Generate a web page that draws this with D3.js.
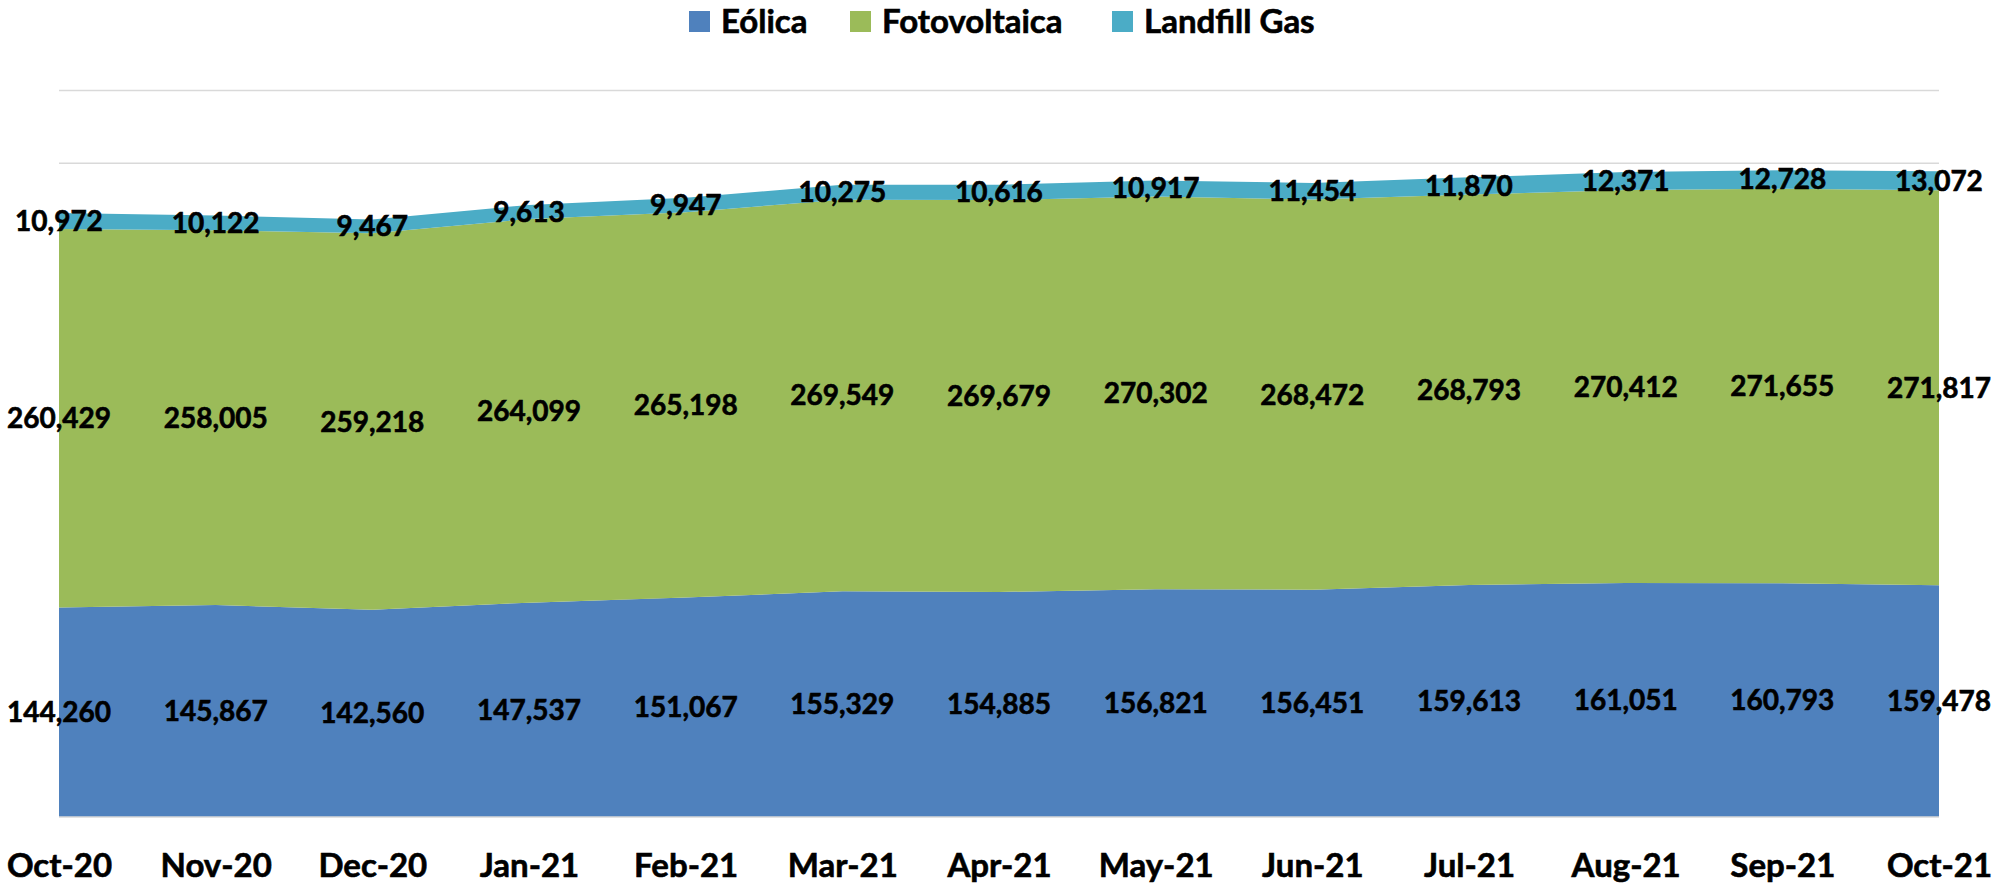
<!DOCTYPE html>
<html>
<head>
<meta charset="utf-8">
<script src="https://cdn.jsdelivr.net/npm/d3@7"></script>
<style>
  body { margin: 0; background: #fff; }
  text { font-family: Lato, "Open Sans", sans-serif; font-weight: bold; fill: #000; stroke: #000; stroke-width: 0.6px; }
</style>
</head>
<body>
<svg id="chart" width="1997" height="889"></svg>
<script>
// chart data
var months = ["Oct-20", "Nov-20", "Dec-20", "Jan-21", "Feb-21", "Mar-21", "Apr-21",
              "May-21", "Jun-21", "Jul-21", "Aug-21", "Sep-21", "Oct-21"];
var eolica = [144260, 145867, 142560, 147537, 151067, 155329, 154885, 156821, 156451, 159613, 161051, 160793, 159478];
var fotovoltaica = [260429, 258005, 259218, 264099, 265198, 269549, 269679, 270302, 268472, 268793, 270412, 271655, 271817];
var landfill = [10972, 10122, 9467, 9613, 9947, 10275, 10616, 10917, 11454, 11870, 12371, 12728, 13072];
var seriesNames = ["Eólica", "Fotovoltaica", "Landfill Gas"];
var colors = ["#4f81bd", "#9bbb59", "#4bacc6"];
var yTicks = d3.range(0, 500001, 50000);

var plotLeft = 59, plotRight = 1939, plotTop = 90.5, plotBottom = 817;

var svg = d3.select("#chart");

var x = d3.scalePoint().domain(months).range([plotLeft, plotRight]);
var y = d3.scaleLinear().domain([0, 500000]).range([plotBottom, plotTop]);

// gridlines
svg.append("g")
    .selectAll("line")
    .data(yTicks.slice(1))
    .enter()
    .append("line")
    .attr("x1", plotLeft)
    .attr("x2", plotRight)
    .attr("y1", function (d) { return y(d); })
    .attr("y2", function (d) { return y(d); })
    .attr("stroke", "#d9d9d9")
    .attr("stroke-width", 1.5);

var rows = months.map(function (m, i) {
    return { month: m, "Eólica": eolica[i], "Fotovoltaica": fotovoltaica[i], "Landfill Gas": landfill[i] };
});
var stacked = d3.stack().keys(seriesNames)(rows);

var area = d3.area()
    .x(function (d) { return x(d.data.month); })
    .y0(function (d) { return y(d[0]); })
    .y1(function (d) { return y(d[1]); });

svg.append("g")
    .selectAll("path")
    .data(stacked)
    .enter()
    .append("path")
    .attr("d", area)
    .attr("fill", function (d, i) { return colors[i]; });

// baseline
svg.append("line")
    .attr("x1", plotLeft)
    .attr("x2", plotRight)
    .attr("y1", plotBottom)
    .attr("y2", plotBottom)
    .attr("stroke", "#d9d9d9")
    .attr("stroke-width", 1.5);

// data labels, centred in each band
var fmt = d3.format(",");
stacked.forEach(function (layer) {
    svg.append("g")
        .selectAll("text")
        .data(layer)
        .enter()
        .append("text")
        .attr("x", function (d) { return x(d.data.month); })
        .attr("y", function (d) { return (y(d[0]) + y(d[1])) / 2 + 10; })
        .attr("text-anchor", "middle")
        .style("font-size", "28px")
        .text(function (d) { return fmt(d[1] - d[0]); });
});

// x axis labels
var xAxis = d3.axisBottom(x).tickSize(0).tickPadding(0);
var gx = svg.append("g")
    .attr("transform", "translate(0," + plotBottom + ")")
    .call(xAxis);
gx.select(".domain").remove();
gx.selectAll("text")
    .attr("dy", null)
    .attr("y", 60)
    .style("font-size", "33px")
    .style("font-family", "Lato, sans-serif")
    .style("font-weight", "bold")
    .attr("fill", "#000");

// legend
var legendX = [689, 850, 1112];
var legend = svg.append("g")
    .selectAll("g")
    .data(seriesNames)
    .enter()
    .append("g")
    .attr("transform", function (d, i) { return "translate(" + legendX[i] + ",0)"; });
legend.append("rect")
    .attr("x", 0)
    .attr("y", 11)
    .attr("width", 21)
    .attr("height", 21)
    .attr("fill", function (d, i) { return colors[i]; });
legend.append("text")
    .attr("x", 32)
    .attr("y", 33)
    .style("font-size", "33px")
    .text(function (d) { return d; });
</script>
</body>
</html>
